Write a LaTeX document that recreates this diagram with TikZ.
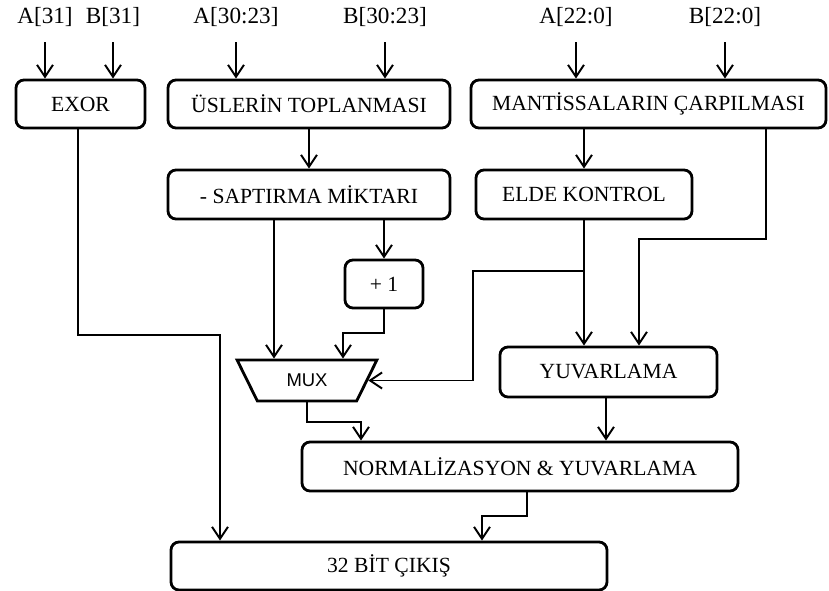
\documentclass[tikz,border=0pt]{standalone}
\usepackage{fontspec}
\setmainfont{Liberation Serif}
\newfontfamily\muxfont{Liberation Sans}
\usetikzlibrary{arrows.meta,shapes.geometric}

\begin{document}
\begin{tikzpicture}[x=0.2mm,y=-0.2mm,
        blk/.style={rectangle,rounded corners=1.6mm,draw,line width=1.6pt,
                    inner sep=0pt,align=center,
                    font=\fontsize{12.3}{14}\selectfont},
        con/.style={-{Straight Barb[length=2.4mm,width=3.2mm]},line width=1.1pt},
        inp/.style={inner sep=0pt,font=\fontsize{13.2}{15}\selectfont}]
    \useasboundingbox (0,0) rectangle (829,591);

    % inputs
    \node[inp] (a31)   at (45,17)  {A[31]};
    \node[inp] (b31)   at (113,17) {B[31]};
    \node[inp] (a3023) at (236,17) {A[30:23]};
    \node[inp] (b3023) at (385,17) {B[30:23]};
    \node[inp] (a220)  at (576,17) {A[22:0]};
    \node[inp] (b220)  at (725,17) {B[22:0]};

    % blocks
    \node[blk,minimum width=25.8mm,minimum height=9.6mm] (exor) at (80.5,104) {EXOR};
    \node[blk,minimum width=56.4mm,minimum height=9.6mm] (usl) at (309,104) {ÜSLERİN TOPLANMASI};
    \node[blk,minimum width=71mm,minimum height=9.6mm] (mant) at (648.5,104) {MANTİSSALARIN ÇARPILMASI};
    \node[blk,minimum width=56.4mm,minimum height=9.8mm] (sap) at (309,194.5) {- SAPTIRMA MİKTARI};
    \node[blk,minimum width=43.2mm,minimum height=9.8mm] (elde) at (584,194.5) {ELDE KONTROL};
    \node[blk,minimum width=15.6mm,minimum height=9.6mm] (plus) at (384,284) {+ 1};
    \node[draw,line width=1.6pt,trapezium,trapezium left angle=57,
          trapezium right angle=57,shape border rotate=180,
          trapezium stretches=true,minimum width=28mm,minimum height=8.2mm,
          inner sep=0pt,font=\muxfont\fontsize{10.5}{12}\selectfont]
          (mux) at (307,380.5) {MUX};
    \node[blk,minimum width=43.4mm,minimum height=10mm] (yuv) at (608.5,372) {YUVARLAMA};
    \node[blk,minimum width=87.2mm,minimum height=9.8mm] (norm) at (520,466.5) {NORMALİZASYON \& YUVARLAMA};
    \node[blk,minimum width=87.2mm,minimum height=9.6mm] (out) at (389,566) {32 BİT ÇIKIŞ};

    % input arrows
    \draw[con] (a31) ++(0,25) -- (a31 |- exor.north);
    \draw[con] (b31) ++(0,25) -- (b31 |- exor.north);
    \draw[con] (a3023) ++(0,25) -- (a3023 |- usl.north);
    \draw[con] (b3023) ++(0,25) -- (b3023 |- usl.north);
    \draw[con] (a220) ++(0,25) -- (a220 |- mant.north);
    \draw[con] (b220) ++(0,25) -- (b220 |- mant.north);

    % data paths
    \draw[con] (usl.south) -- (sap.north);
    \draw[con] (mant.south -| elde.north) -- (elde.north);
    \draw[con] (mant.south -| 766,0) |- (639,239) -- (yuv.north -| 639,0);
    \draw[con] (elde.south) -- (yuv.north -| elde.south);
    \draw[con] (elde.south |- 0,271) -| (473,0 |- mux.east) -- (mux.east);
    \draw[con] (sap.south -| 274,0) -- (mux.north -| 274,0);
    \draw[con] (sap.south -| plus.north) -- (plus.north);
    \draw[con] (plus.south) |- (343,333) -- (mux.north -| 343,0);
    \draw[con] (mux.south) |- (361,422) -- (norm.north -| 361,0);
    \draw[con] (yuv.south -| 606,0) -- (norm.north -| 606,0);
    \draw[con] (norm.south -| 527,0) |- (482,516) -- (out.north -| 482,0);
    \draw[con] (exor.south -| 78,0) |- (220,335) -- (out.north -| 220,0);
\end{tikzpicture}
\end{document}
